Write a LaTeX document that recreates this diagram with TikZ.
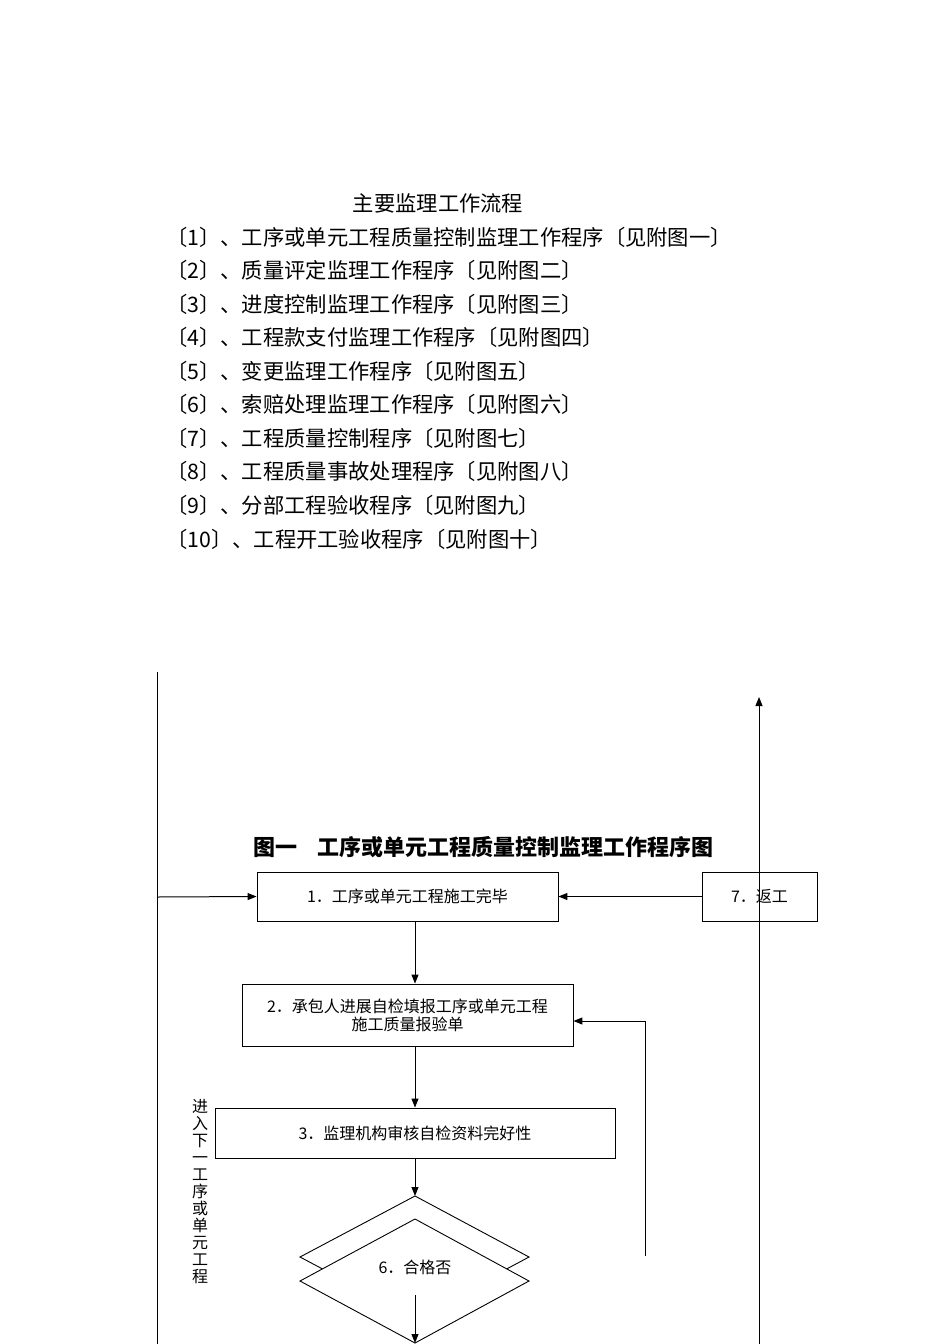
\documentclass[tikz,border=0pt]{standalone}
\usepackage{fontspec}
\setmainfont{Noto Sans CJK SC}
\usetikzlibrary{arrows.meta}
\begin{document}
\begin{tikzpicture}[x=1pt,y=-1pt,
  box/.style={draw,line width=0.9pt,inner sep=0pt,font=\fontsize{16}{18}\selectfont},
  ln/.style={line width=1pt},
  arr/.style={ln,-{Triangle[length=9pt,width=7pt]}},
  hd/.style={anchor=west,font=\fontsize{21.3}{23}\selectfont,inner sep=0pt}]
\useasboundingbox (0,0) rectangle (950,1344);
\node[font=\fontsize{21.3}{23}\selectfont,inner sep=0pt] (t0) at (438,203) {主要监理工作流程};
\node[hd] (h1) at (166,237) {〔1〕、工序或单元工程质量控制监理工作程序〔见附图一〕};
\node[hd] (h2) at (166,270) {〔2〕、质量评定监理工作程序〔见附图二〕};
\node[hd] (h3) at (166,304) {〔3〕、进度控制监理工作程序〔见附图三〕};
\node[hd] (h4) at (166,337) {〔4〕、工程款支付监理工作程序〔见附图四〕};
\node[hd] (h5) at (166,371) {〔5〕、变更监理工作程序〔见附图五〕};
\node[hd] (h6) at (166,404) {〔6〕、索赔处理监理工作程序〔见附图六〕};
\node[hd] (h7) at (166,438) {〔7〕、工程质量控制程序〔见附图七〕};
\node[hd] (h8) at (166,471) {〔8〕、工程质量事故处理程序〔见附图八〕};
\node[hd] (h9) at (166,505) {〔9〕、分部工程验收程序〔见附图九〕};
\node[hd] (h10) at (166,539) {〔10〕、工程开工验收程序〔见附图十〕};
\node[font=\bfseries\fontsize{22}{24}\selectfont,inner sep=0pt] (title) at (483,847) {图一\hspace{20pt}工序或单元工程质量控制监理工作程序图};
\node[box,minimum width=301pt,minimum height=49pt] (b1) at (407.5,896.5) {1．工序或单元工程施工完毕};
\node[box,minimum width=115pt,minimum height=49pt] (b7) at (759.5,896.5) {7．返工};
\node[box,minimum width=331pt,minimum height=62pt,align=center] (b2) at (407.5,1015) {2．承包人进展自检填报工序或单元工程\\施工质量报验单};
\node[box,minimum width=400pt,minimum height=50pt] (b3) at (415,1133) {3．监理机构审核自检资料完好性};
\draw[line width=0.9pt,fill=white] (415,1196) -- (529,1257) -- (415,1318) -- (300,1257) -- cycle;
\draw[line width=0.9pt,fill=white] (415,1219) -- (529,1281) -- (415,1343) -- (300,1281) -- cycle;
\node[font=\fontsize{16}{18}\selectfont] (d6) at (415,1267) {6．合格否};
\node[font=\fontsize{16}{17}\selectfont,align=center,inner sep=0pt] (side) at (200,1192) {进\\入\\下\\一\\工\\序\\或\\单\\元\\工\\程};
\coordinate (lt) at (157,672);
\coordinate (lb) at (157,1344);
\coordinate (rt) at (759,697);
\coordinate (rb) at (759,1344);
\coordinate (fb) at (645,1256);
\coordinate (fc) at (645,1021);
\coordinate (db) at (415,1343);
\draw[ln] (lt) -- (lb);
\draw[arr] (rb) -- (rt);
\draw[arr] (157,897) -- (b1.west);
\draw[arr] (b7.west) -- (b1.east);
\draw[arr] (b1.south -| 415,0) -- (b2.north -| 415,0);
\draw[arr] (b2.south -| 415,0) -- (b3.north);
\draw[arr] (b3.south) -- (415,1196);
\draw[arr] (fb) -- (fc) -- (b2.east |- fc);
\draw[arr] (415,1295) -- (db);
\end{tikzpicture}
\end{document}
